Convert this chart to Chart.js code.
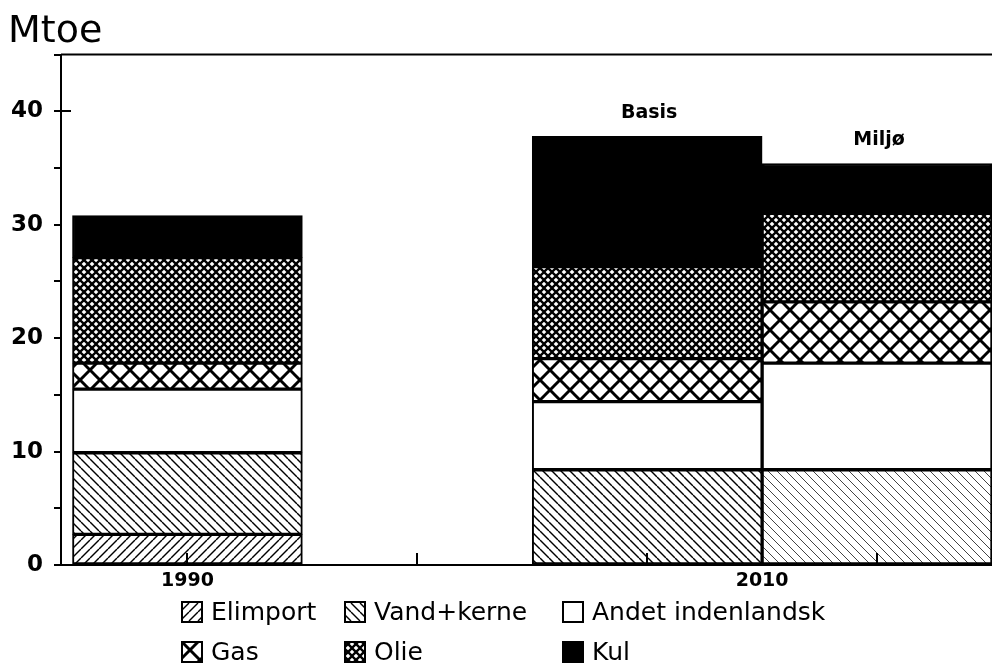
<!DOCTYPE html>
<html>
<head>
<meta charset="utf-8">
<script src="https://cdn.jsdelivr.net/npm/chart.js@4.4.0/dist/chart.umd.min.js"></script>
<style>
  body { margin: 0; background: #fff; }
  #wrap { width: 992px; height: 670px; }
</style>
</head>
<body>
<div id="wrap"><canvas id="energy"></canvas></div>
<script>
// bar slots on the x scale: 1990, (empty slot 1), 2010 Basis, 2010 Miljø
const barX = [0, 2, 3];
const barNotes = ['', 'Basis', 'Miljø'];
const xTickValues = [0, 2.5];
const xTickLabels = ['1990', '2010'];
const xMarks = [0, 1, 2, 3];

const seriesNames = ['Elimport', 'Vand+kerne', 'Andet indenlandsk', 'Gas', 'Olie', 'Kul'];
const elimport = [2.7, null, null];
const vandKerne = [7.2, 8.4, 8.4];
const andet = [5.6, 6.0, 9.4];
const gas = [2.3, 3.8, 5.4];
const olie = [9.3, 8.1, 7.8];
const kul = [3.7, 11.5, 4.4];

const FONT = '"DejaVu Sans", sans-serif';

function hatch(size, lineWidth, dirs, color) {
    const c = document.createElement('canvas');
    c.width = size;
    c.height = size;
    const g = c.getContext('2d');
    g.fillStyle = '#fff';
    g.fillRect(0, 0, size, size);
    g.strokeStyle = color || '#000';
    g.lineWidth = lineWidth;
    for (const d of dirs) {
        for (const off of [-size, 0, size]) {
            g.beginPath();
            if (d === '/') {
                g.moveTo(off, size);
                g.lineTo(off + size, 0);
            } else {
                g.moveTo(off, 0);
                g.lineTo(off + size, size);
            }
            g.stroke();
        }
    }
    return g.createPattern(c, 'repeat');
}

const elimportFill = hatch(9, 1.4, ['/']);
const vandFill = hatch(9, 1.4, ['\\']);
const vandFillLight = hatch(9, 1, ['\\'], '#444');
const gasFill = hatch(20, 3, ['/', '\\']);
const olieFill = hatch(8, 2.3, ['/', '\\']);

const seriesValues = [elimport, vandKerne, andet, gas, olie, kul];
const seriesFills = [
    elimportFill,
    [vandFill, vandFill, vandFillLight],
    '#fff',
    gasFill,
    olieFill,
    '#000'
];
const legendFills = [elimportFill, vandFill, '#fff', gasFill, olieFill, '#000'];

const datasets = seriesNames.map((name, i) => ({
    label: name,
    data: seriesValues[i].map((v, j) => ({ x: barX[j], y: v })),
    backgroundColor: seriesFills[i],
    borderColor: '#000',
    borderWidth: 2,
    borderSkipped: false,
    barPercentage: 1,
    categoryPercentage: 1
}));

const extras = {
    id: 'extras',
    afterDatasetsDraw(chart) {
        const { ctx, chartArea } = chart;
        const x = chart.scales.x;
        const y = chart.scales.y;
        ctx.save();
        ctx.strokeStyle = '#000';
        ctx.lineWidth = 2;
        // top frame line
        ctx.beginPath();
        ctx.moveTo(chartArea.left, chartArea.top);
        ctx.lineTo(chartArea.right, chartArea.top);
        ctx.stroke();
        // inward tick at 40
        const p40 = Math.round(y.getPixelForValue(40));
        ctx.beginPath();
        ctx.moveTo(chartArea.left, p40);
        ctx.lineTo(chartArea.left + 10, p40);
        ctx.stroke();
        // small upward marks on the x axis
        for (const v of xMarks) {
            const px = Math.round(x.getPixelForValue(v));
            ctx.beginPath();
            ctx.moveTo(px, chartArea.bottom);
            ctx.lineTo(px, chartArea.bottom - 12);
            ctx.stroke();
        }
        // notes above the 2010 bars
        const top = chart.getDatasetMeta(datasets.length - 1);
        ctx.fillStyle = '#000';
        ctx.font = 'bold 19px ' + FONT;
        ctx.textAlign = 'center';
        ctx.textBaseline = 'middle';
        barNotes.forEach((note, i) => {
            if (!note) return;
            const el = top.data[i];
            ctx.fillText(note, el.x + 2, el.y - 23);
        });
        // legend, 3 columns x 2 rows
        const colX = [182, 345, 563];
        const rowY = [612, 652];
        ctx.font = '25px ' + FONT;
        ctx.textAlign = 'left';
        seriesNames.forEach((name, i) => {
            const sx = colX[i % 3];
            const sy = rowY[Math.floor(i / 3)];
            ctx.fillStyle = legendFills[i];
            ctx.fillRect(sx, sy - 10, 20, 20);
            ctx.strokeRect(sx, sy - 10, 20, 20);
            ctx.fillStyle = '#000';
            ctx.fillText(name, sx + 29, sy + 1);
        });
        ctx.restore();
    }
};

const ctx = document.getElementById('energy').getContext('2d');
const energyChart = new Chart(ctx, {
    type: 'bar',
    data: { datasets: datasets },
    options: {
        responsive: true,
        maintainAspectRatio: false,
        animation: false,
        layout: {
            padding: { left: 8, right: 0, top: 0, bottom: 0 }
        },
        plugins: {
            legend: { display: false },
            tooltip: { enabled: false },
            title: {
                display: true,
                text: 'Mtoe',
                align: 'start',
                color: '#000',
                font: { family: FONT, size: 38, weight: 'normal' },
                padding: { top: 9, bottom: 0 }
            }
        },
        scales: {
            x: {
                type: 'linear',
                offset: false,
                stacked: true,
                min: -0.55,
                max: 3.5,
                afterBuildTicks: (scale) => {
                    scale.ticks = xTickValues.map((v) => ({ value: v }));
                },
                afterFit: (scale) => { scale.height = 105; },
                grid: { offset: false, drawOnChartArea: false, drawTicks: false },
                border: { color: '#000', width: 2 },
                ticks: {
                    autoSkip: false,
                    maxRotation: 0,
                    padding: 5,
                    color: '#000',
                    font: { family: FONT, size: 19, weight: 'bold' },
                    callback: (v) => xTickLabels[xTickValues.indexOf(v)]
                }
            },
            y: {
                stacked: true,
                min: 0,
                max: 45,
                afterFit: (scale) => { scale.width = 53; },
                grid: { drawOnChartArea: false, tickLength: 7, color: '#000', lineWidth: 2 },
                border: { color: '#000', width: 2 },
                ticks: {
                    stepSize: 5,
                    padding: 11,
                    color: '#000',
                    font: { family: FONT, size: 23, weight: 'bold' },
                    callback: (v) => (v % 10 === 0 ? v : '')
                }
            }
        }
    },
    plugins: [extras]
});
</script>
</body>
</html>
